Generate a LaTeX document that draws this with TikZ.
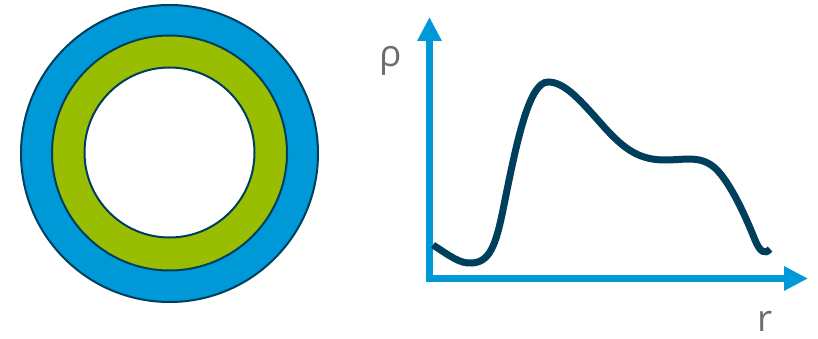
\documentclass[tikz,border=0pt]{standalone}
\usepackage{fontspec}
\setmainfont{Open Sans}
\usepackage{xcolor}
\definecolor{shellBlue}{HTML}{0099D8}
\definecolor{shellGreen}{HTML}{99BD00}
\definecolor{shellEdge}{HTML}{003E5E}
\definecolor{curveNavy}{HTML}{003F5C}
\definecolor{labelGray}{HTML}{6E6E6E}
\usetikzlibrary{arrows.meta}

\begin{document}
\begin{tikzpicture}[x=1pt, y=-1pt]
  \useasboundingbox (0,0) rectangle (818,339);
  \tikzset{
    shell/.style={circle, draw=shellEdge, line width=2pt, inner sep=0pt},
    axis/.style={shellBlue, line width=7pt, -{Triangle[length=24pt, width=23pt]}},
    axislabel/.style={text=labelGray, font=\fontsize{37}{37}\selectfont, inner sep=0pt}
  }
  \node[shell, fill=shellBlue, minimum size=297pt] (outer) at (169.5,153.5) {};
  \node[shell, fill=shellGreen, minimum size=235pt] (middle) at (169.5,153) {};
  \node[shell, fill=white, minimum size=170pt] (inner) at (169.5,152.5) {};
  \coordinate (origin) at (429.5,278.5);
  \coordinate (ytip) at (429.5,17);
  \coordinate (xtip) at (808,278.5);
  \draw[axis] ([yshift=-3.5pt]origin) -- (ytip);
  \draw[axis] ([xshift=-3.5pt]origin) -- (xtip);
  \node[axislabel, anchor=base] (rho) at (391,67) {ρ};
  \node[axislabel, anchor=base] (r) at (765,331) {r};
  \draw[curveNavy, line width=7pt] (433,245)
    .. controls (450,256) and (460,264) .. (472,263)
    .. controls (492,262) and (497,240) .. (505,200)
    .. controls (518,135) and (530,82) .. (548,82)
    .. controls (565,82) and (580,100) .. (605,128)
    .. controls (625,150) and (640,160) .. (665,160)
    .. controls (685,160) and (700,155) .. (715,168)
    .. controls (730,182) and (745,215) .. (755,240)
    .. controls (760,252) and (765,255) .. (770,249);
\end{tikzpicture}
\end{document}
